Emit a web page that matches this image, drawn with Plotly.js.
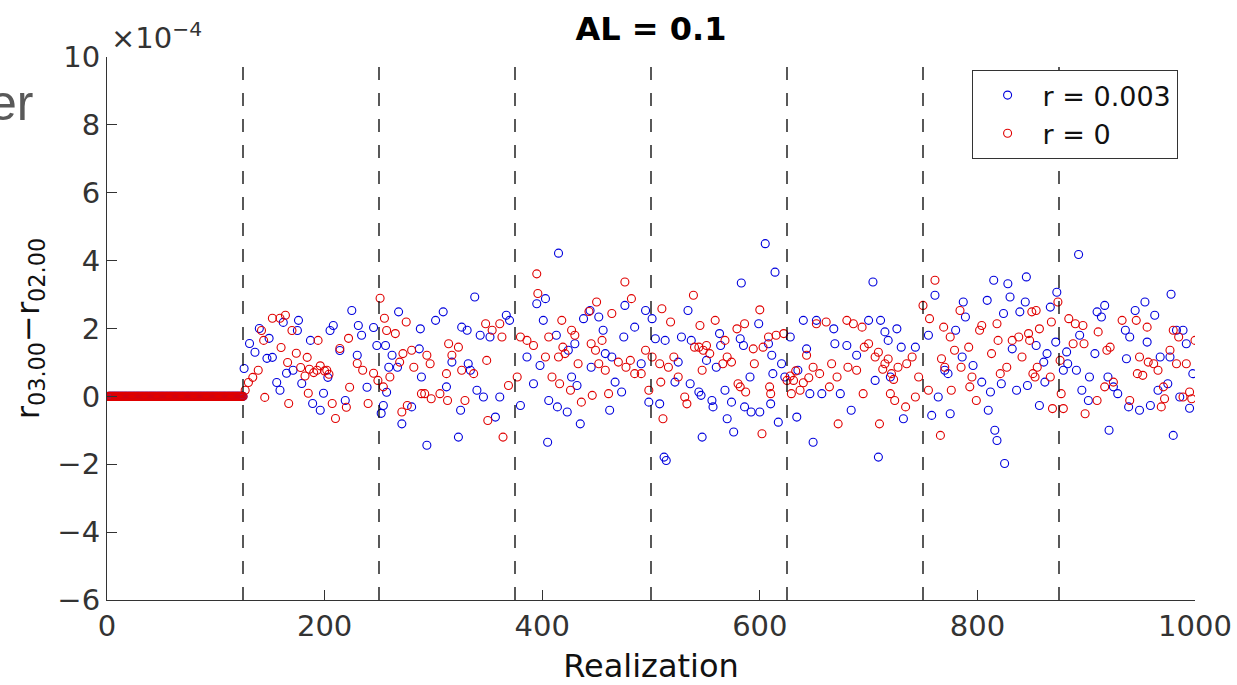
<!DOCTYPE html>
<html>
<head>
<meta charset="utf-8">
<script src="https://cdn.plot.ly/plotly-3.0.1.min.js"></script>
<style>html,body{margin:0;padding:0;background:#fff;}#chart{width:1237px;height:685px;}</style>
</head>
<body>
<div id="chart"></div>
<script>
// ---- data (y values in units of 1e-4) ----
const initCount = 125;           // realizations 1..125 where both series are exactly 0
const initValue = 0;

const blueX = [126,131,136,140,147,149,152,156,159,162,165,171,175,176,179,187,189,196,199,203,205,208,214,219,225,230,231,234,239,245,248,252,254,257,
256,259,262,267,268,271,280,287,288,289,294,302,309,312,317,323,325,326,331,332,334,338,340,343,346,352,357,361,367,370,380,386,392,395,
398,401,403,405,406,413,414,415,423,424,427,430,432,435,438,444,445,452,456,458,462,464,467,473,475,476,485,491,495,498,501,504,508,512,513,514,522,525,528,534,536,537,544,547,
546,551,556,557,560,563,564,568,570,574,576,582,583,585,586,591,592,599,600,605,608,610,611,612,614,617,620,623,628,634,635,640,643,646,649,652,657,668,669,674,680,684,689,700,
704,706,709,711,715,718,720,726,730,732,743,755,758,761,764,770,773,775,780,786,787,789,796,804,809,810,812,815,816,818,822,824,825,828,830,832,836,839,844,845,846,
854,857,861,862,864,867,872,873,879,882,883,891,893,894,896,902,903,908,910,914,917,920,921,925,929,936,937,939,940,945,949,954,956,959,963,966,968,975,977,978,980,983,986,989,992,995,998];
const blueY = [0.82,1.56,1.3,2.0,1.12,1.71,1.15,0.41,0.18,2.18,0.68,0.77,1.94,2.24,0.38,1.65,-0.21,-0.41,0.09,0.56,1.94,2.09,1.35,-0.12,2.53,1.21,2.09,1.8,0.27,2.03,1.5,-0.5,-0.27,0.12,
1.5,0.86,1.21,0.86,2.49,-0.81,-0.31,1.4,1.99,0.57,-1.44,2.24,2.49,0.28,1.01,-1.2,-0.41,2.04,1.95,0.96,0.77,2.93,0.18,1.8,-0.02,1.75,-0.61,-0.02,2.39,2.24,-0.27,1.16,0.37,2.73,
0.91,2.24,2.88,-1.35,-0.12,1.8,-0.31,4.22,-0.46,1.36,0.57,1.55,0.32,-0.81,2.29,2.53,0.86,2.34,1.95,1.26,-0.41,1.16,0.42,0.13,1.75,2.68,2.04,0.96,2.53,-0.17,2.29,1.7,-0.22,-1.79,1.65,-1.89,0.42,1.01,1.75,2.53,0.37,1.65,0.13,-1.2,
0.03,1.06,-0.12,-0.31,0.86,1.85,1.5,0.18,-0.66,-0.17,-1.05,1.7,3.34,1.5,-0.31,0.57,-0.46,2.14,-0.46,4.5,1.55,-0.22,1.21,0.67,3.66,-0.76,0.96,0.57,1.75,-0.61,0.77,2.24,1.4,0.08,-1.35,2.24,0.08,1.99,1.55,0.08,1.5,-0.41,1.21,2.24,
3.37,0.47,-1.79,2.24,1.9,1.65,0.57,1.99,1.45,-0.66,1.45,1.8,-0.56,2.98,-0.02,0.77,0.67,-0.51,1.95,1.16,2.78,2.34,0.91,0.42,2.83,-0.41,0.13,3.42,-1.0,-1.3,0.37,2.44,-1.98,3.32,2.93,1.4,0.18,2.49,2.78,3.52,0.32,
1.5,-0.27,1.01,0.42,1.26,2.63,1.6,3.07,0.77,1.31,0.96,0.77,4.18,1.8,0.18,-0.12,0.57,1.26,2.49,2.34,2.68,0.57,-1.0,0.28,0.08,1.95,1.11,-0.31,1.75,2.53,-0.41,2.78,1.6,-0.27,2.39,0.18,1.16,0.37,1.16,3.01,-1.15,1.95,-0.02,1.95,1.55,-0.35,0.67];

const redX = [127,130,134,139,142,144,145,152,159,160,164,166,167,170,174,178,182,184,185,186,190,193,194,196,200,202,204,207,210,214,220,222,223,230,235,240,245,249,251,255,257,
254,260,265,269,271,272,275,276,280,282,289,292,294,297,298,306,312,313,314,317,323,326,329,337,348,349,350,354,361,363,364,369,377,380,386,392,395,396,
403,406,409,415,416,418,419,421,426,427,430,433,436,443,445,446,449,450,452,455,458,461,464,470,476,477,481,482,485,491,495,498,501,508,509,510,511,516,518,521,525,531,533,539,540,544,
545,547,548,551,554,559,566,568,570,574,579,580,582,586,587,594,595,600,602,603,608,609,610,615,622,625,628,629,631,633,637,640,643,645,649,652,655,661,664,666,671,672,680,681,686,689,694,695,696,
700,706,709,710,713,715,718,720,721,723,724,727,734,735,740,743,746,750,755,756,761,766,767,769,770,775,776,779,784,785,792,793,795,799,802,804,813,818,819,821,827,832,838,841,847,850,851,
848,853,854,855,857,867,868,869,874,876,877,879,884,888,890,897,898,899,910,911,917,919,922,925,933,940,946,947,949,952,956,957,962,966,969,971,972,977,980,983,985,989,992,995,997,1000];
const redY = [0.18,0.41,0.56,0.77,1.94,1.65,-0.03,2.3,2.3,1.44,2.39,1.0,-0.21,1.94,1.27,0.85,0.6,1.15,0.09,0.8,0.7,0.77,1.65,0.9,0.75,0.77,0.65,-0.21,-0.65,1.41,-0.32,1.71,0.27,0.97,0.77,-0.21,0.68,0.47,2.89,2.3,1.94,
0.28,0.57,1.85,1.01,-0.46,1.26,2.19,-0.27,1.36,0.86,0.08,0.08,1.21,0.96,-0.07,0.08,0.67,-0.12,1.55,1.21,1.45,0.77,-0.12,0.67,2.14,1.06,-0.71,1.95,2.14,1.75,-1.2,0.32,0.57,1.75,1.65,1.5,3.61,3.03,
1.16,1.75,0.57,1.16,0.37,2.24,1.45,1.26,0.18,1.95,1.8,0.96,-0.17,2.5,1.55,0.03,1.36,2.78,0.96,1.65,0.77,0.08,2.44,1.01,3.37,0.86,1.06,2.88,0.67,0.67,1.36,0.18,1.16,0.96,0.42,2.58,-0.66,0.86,2.19,1.16,0.57,-0.02,-0.22,2.98,1.45,1.45,
2.09,0.77,1.36,1.5,1.26,2.24,0.96,1.65,1.16,1.01,1.99,0.37,0.28,2.14,0.13,1.4,0.96,2.55,-1.1,1.45,1.75,0.28,0.08,1.8,1.85,0.47,0.6,0.08,0.47,0.75,0.18,0.4,1.21,0.55,0.86,2.14,0.67,2.19,0.28,0.96,0.57,-0.81,2.24,0.86,2.14,0.77,2.04,0.08,1.45,
1.55,1.16,1.3,-0.81,0.8,0.96,1.1,0.08,0.67,0.5,-0.12,0.86,-0.31,0.96,1.16,-0.02,0.57,2.68,0.18,2.29,3.42,-1.15,1.11,2.04,0.86,1.75,0.18,1.36,2.53,0.86,1.45,0.28,0.57,-0.12,1.95,2.09,1.26,2.14,1.65,0.67,0.86,1.65,1.75,1.16,1.85,2.49,0.67,
1.65,0.57,2.53,0.86,1.99,0.57,2.19,-0.36,2.78,1.06,0.08,-0.36,2.29,1.55,2.14,2.09,1.55,-0.51,-0.12,1.9,0.28,1.36,1.45,0.42,2.24,-0.12,2.24,0.67,1.16,0.62,2.04,1.01,0.96,0.77,-0.31,0.28,-0.07,1.36,1.95,0.96,1.75,-0.02,0.96,0.13,-0.07,1.65];

const dividers = [125,250,375,500,625,750,875];
const xTicks = [0,200,400,600,800,1000];
const yTicks = [-6,-4,-2,0,2,4,6,8,10];
const yTickText = ['\u22126','\u22124','\u22122','0','2','4','6','8','10'];
const seriesNames = ['r = 0.003','r = 0'];
const titleText = '<b>AL = 0.1</b>';
const xTitle = 'Realization';
const yTitle = 'r<sub>03.00</sub>\u2212r<sub>02.00</sub>';

// ---- build ----
const initX = [], initY = [];
for (let i = 1; i <= initCount; i++) { initX.push(i); initY.push(initValue); }

const FONT = 'DejaVu Sans';
const AX = '#333333';

const traces = [
  {x: initX.concat(blueX), y: initY.concat(blueY), name: seriesNames[0], type: 'scatter', mode: 'markers',
   marker: {symbol: 'circle-open', size: 8, color: '#0000dd', line: {width: 1.1}}},
  {x: initX.concat(redX), y: initY.concat(redY), name: seriesNames[1], type: 'scatter', mode: 'markers',
   marker: {symbol: 'circle-open', size: 8, color: '#e00000', line: {width: 1.1}}}
];

const shapes = dividers.map(v => ({type: 'line', xref: 'x', yref: 'paper', x0: v, x1: v, y0: 0, y1: 1,
  line: {color: '#000', width: 1.3, dash: '13px,13px'}}));

const layout = {
  width: 1237, height: 685,
  margin: {l: 107, r: 42, t: 57, b: 85},
  paper_bgcolor: '#fff', plot_bgcolor: '#fff',
  title: {text: titleText, font: {family: FONT, size: 32, color: '#000'}, x: 0.5, xref: 'paper',
          y: 0.958, yref: 'container', yanchor: 'middle'},
  xaxis: {range: [0, 1000], tickvals: xTicks, ticks: 'inside', ticklen: 10, tickcolor: AX, tickwidth: 1,
          showline: true, linecolor: AX, linewidth: 1.2, showgrid: false, zeroline: false,
          tickfont: {family: FONT, size: 29, color: AX},
          title: {text: xTitle, font: {family: FONT, size: 32, color: '#111'}, standoff: 15}},
  yaxis: {range: [-6, 10], tickvals: yTicks, ticktext: yTickText, ticks: 'inside', ticklen: 10, tickcolor: AX, tickwidth: 1,
          showline: true, linecolor: AX, linewidth: 1.2, showgrid: false, zeroline: false,
          tickfont: {family: FONT, size: 29, color: AX},
          title: {text: yTitle, font: {family: FONT, size: 32, color: '#111'}, standoff: 8}},
  showlegend: true,
  legend: {x: 0.984, xanchor: 'right', y: 0.976, yanchor: 'top', bgcolor: '#fff',
           bordercolor: AX, borderwidth: 1, font: {family: FONT, size: 27, color: '#111'},
           itemsizing: 'trace', itemwidth: 60, tracegroupgap: 0},
  shapes: shapes,
  annotations: [
    {text: '\u00d710<sup>\u22124</sup>', xref: 'paper', yref: 'paper', x: 0.002, y: 1.0, xanchor: 'left', yanchor: 'bottom',
     showarrow: false, font: {family: FONT, size: 29, color: AX}},
    {text: 'er', xref: 'paper', yref: 'paper', x: -0.066, y: 0.915, xanchor: 'right', yanchor: 'middle',
     showarrow: false, font: {family: 'Liberation Sans', size: 50, color: '#595959'}}
  ]
};

Plotly.newPlot('chart', traces, layout, {displayModeBar: false, responsive: false});
</script>
</body>
</html>
